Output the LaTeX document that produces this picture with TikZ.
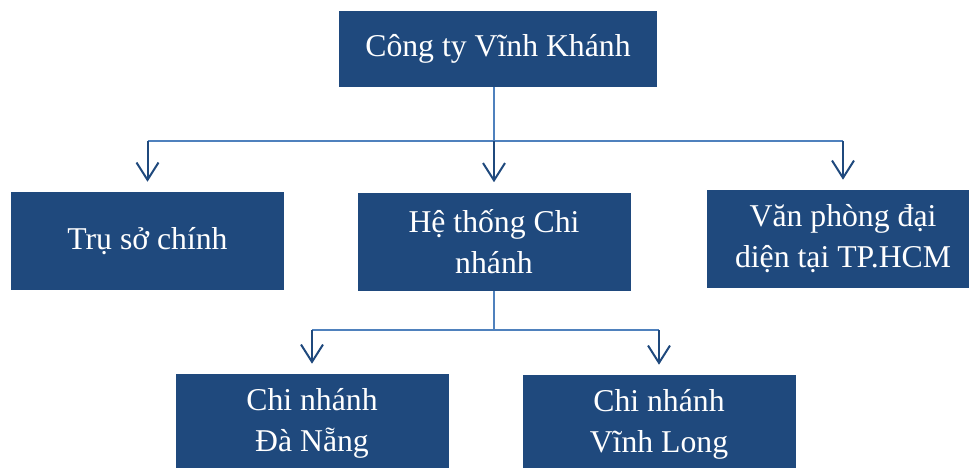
\documentclass[tikz,border=0pt]{standalone}
\usepackage{fontspec}
\setmainfont{Liberation Serif}
\usepackage{tikz}
\usetikzlibrary{arrows.meta,positioning}
\definecolor{boxblue}{RGB}{31,73,125}
\definecolor{lineblue}{RGB}{79,129,189}

\begin{document}
\begin{tikzpicture}[
    x=0.75pt, y=-0.75pt,
    font=\fontsize{23.8}{30.75}\selectfont,
    unit/.style={
		rectangle,
		fill=boxblue,
		text=white,
		align=center,
		inner sep=0pt,
		minimum width=273*0.75pt,
		minimum height=98*0.75pt
	},
	bus/.style={
		draw=lineblue,
		line width=1.2pt
	},
	drop/.style={
		draw=boxblue,
		line width=1.5pt,
		-{Straight Barb[length=13pt,width=16.5pt,line width=1.5pt]},
		shorten >=7.5pt
	}
  ]
  \useasboundingbox (0,0) rectangle (969,467);

    % the boxes
  \node [unit, minimum width=318*0.75pt, minimum height=76*0.75pt] (cty) at (498,49) {Công ty Vĩnh Khánh};

  \node [unit] (truso) at (147.5,241) {Trụ sở chính};
  \node [unit] (hethong) at (494,241.5) {Hệ thống Chi\\nhánh};
  \node [unit] (vanphong) at (843,239) {Văn phòng đại\\diện tại TP.HCM};

  \node [unit] (danang) at (312,423) {Chi nhánh\\Đà Nẵng};
  \node [unit] (vinhlong) at (659,424) {Chi nhánh\\Vĩnh Long};

    % the connectors
  \coordinate (bus1) at (0,141);
  \coordinate (bus2) at (0,330);

  \draw [bus] (cty.south -| hethong.north) -- (bus1 -| hethong.north);
  \draw [bus] (bus1 -| truso.north) -- (bus1 -| vanphong.north);
  \draw [drop] (bus1 -| truso.north) -- (truso.north);
  \draw [drop] (bus1 -| hethong.north) -- (hethong.north);
  \draw [drop] (bus1 -| vanphong.north) -- (vanphong.north);

  \draw [bus] (hethong.south) -- (bus2 -| hethong.south);
  \draw [bus] (bus2 -| danang.north) -- (bus2 -| vinhlong.north);
  \draw [drop] (bus2 -| danang.north) -- (danang.north);
  \draw [drop] (bus2 -| vinhlong.north) -- (vinhlong.north);

\end{tikzpicture}
\end{document}
